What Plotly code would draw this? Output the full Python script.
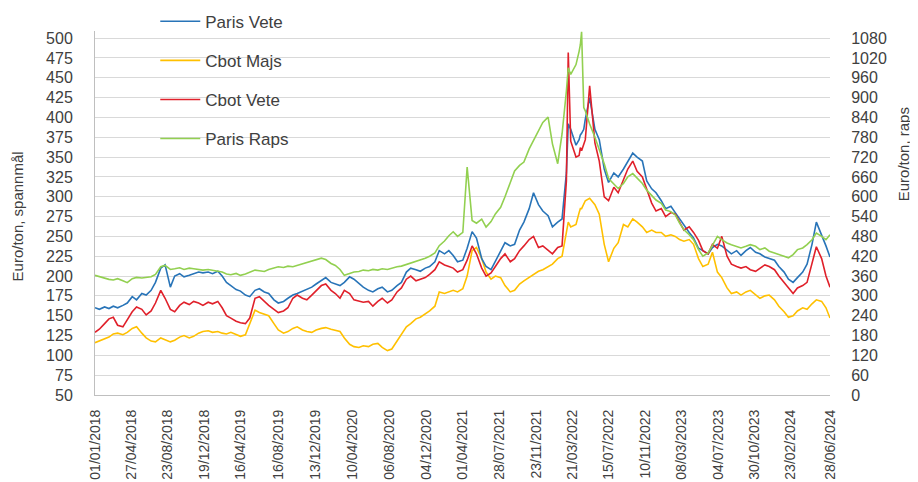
import datetime as dt
import plotly.graph_objects as go

# ---------------- data ----------------
# semi-monthly observations: 1st and 15th of each month, Jan 2018 .. Jun 2024, plus 28 Jun 2024
paris_vete = [
    160, 158, 161, 159, 162, 160, 163, 166, 174, 170, 178, 176, 182, 192, 210, 214, 186, 200, 203, 199, 201, 203, 205, 204,  # 2018
    205, 203, 206, 200, 192, 188, 183, 181, 176, 174, 182, 184, 180, 178, 170, 166, 168, 172, 176, 178, 181, 183, 186, 190,  # 2019
    194, 198, 192, 190, 188, 192, 199, 196, 190, 186, 182, 180, 184, 186, 180, 182, 188, 192, 205, 210, 208, 206, 210, 212,  # 2020
    218, 232, 228, 232, 226, 218, 220, 235, 256, 248, 222, 212, 208, 218, 232, 242, 238, 240, 258, 268, 285, 305, 290, 282,  # 2021
    276, 262, 268, 272, 330, 385, 365, 378, 398, 425, 385, 372, 335, 318, 330, 325, 335, 345, 355, 350, 345, 320, 310, 305,  # 2022
    295, 285, 288, 280, 272, 265, 255, 248, 235, 232, 228, 236, 240, 238, 232, 228, 232, 226, 232, 236, 230, 228, 224, 222,  # 2023
    220, 212, 205, 196, 192, 198, 205, 215, 240, 268, 252, 238, 224,                                                       # 2024
]
cbot_vete = [
    129, 133, 140, 146, 148, 138, 136, 145, 155, 161, 158, 151, 156, 166, 182, 172, 158, 155, 163, 167, 164, 168, 166, 163,
    167, 165, 168, 160, 150, 147, 143, 141, 140, 147, 172, 174, 168, 163, 158, 154, 156, 160, 172, 176, 172, 170, 176, 182,
    188, 190, 182, 178, 172, 182, 178, 170, 168, 167, 168, 162, 168, 172, 166, 170, 180, 185, 196, 200, 194, 196, 198, 202,
    208, 218, 214, 212, 210, 205, 208, 220, 238, 228, 210, 200, 204, 212, 222, 228, 218, 222, 232, 238, 246, 250, 236, 238,
    232, 228, 236, 238, 320, 370, 350, 362, 372, 440, 368, 345, 300, 295, 312, 305, 322, 335, 345, 332, 325, 310, 292, 282,
    285, 275, 280, 278, 268, 258, 262, 255, 245, 232, 228, 240, 235, 250, 225, 215, 212, 210, 212, 208, 206, 210, 214, 212,
    208, 200, 192, 184, 178, 185, 188, 192, 215, 237, 222, 200, 186,
]
cbot_majs = [
    116, 118, 120, 123, 127, 128, 126, 129, 134, 136, 128, 122, 118, 117, 122, 120, 117, 119, 123, 125, 122, 124, 128, 130,
    131, 129, 130, 128, 127, 129, 126, 124, 126, 140, 157, 154, 152, 150, 140, 132, 128, 130, 134, 136, 132, 130, 129, 132,
    134, 135, 133, 132, 130, 122, 114, 111, 110, 112, 111, 114, 115, 110, 106, 108, 118, 125, 136, 140, 146, 148, 152, 156,
    162, 180, 178, 180, 182, 180, 184, 200, 232, 236, 222, 205, 196, 200, 198, 188, 180, 182, 190, 194, 198, 202, 206, 208,
    212, 215, 222, 225, 255, 262, 265, 285, 295, 298, 290, 278, 240, 218, 235, 242, 265, 262, 272, 268, 262, 255, 258, 255,
    255, 250, 252, 250, 246, 244, 246, 240, 222, 212, 215, 230, 205, 198, 185, 178, 180, 176, 180, 182, 176, 172, 175, 176,
    170, 162, 155, 148, 150, 156, 160, 158, 165, 170, 168, 160, 147,
]
paris_raps = [
    362, 358, 352, 350, 348, 352, 346, 340, 352, 356, 354, 355, 358, 365, 388, 392, 380, 382, 385, 380, 384, 382, 380, 378,
    380, 378, 376, 372, 366, 364, 368, 362, 366, 372, 378, 376, 374, 380, 384, 388, 386, 390, 388, 392, 396, 400, 404, 410,
    414, 410, 398, 392, 380, 362, 368, 372, 374, 378, 376, 380, 378, 382, 380, 384, 388, 390, 395, 400, 404, 408, 414, 420,
    430, 452, 466, 482, 494, 480, 492, 690, 528, 520, 532, 508, 525, 548, 568, 600, 640, 678, 695, 705, 745, 770, 800, 825,
    841, 760, 700, 790, 920, 970, 1000, 1060, 860, 820, 780, 745, 700, 655, 640, 625, 640, 660, 670, 655, 640, 620, 605, 590,
    580, 560, 555, 545, 520, 500, 485, 470, 440, 420, 430, 455, 480, 470, 460, 455, 450, 445, 450, 455, 450, 440, 445, 435,
    430, 425, 418, 415, 425, 440, 445, 455, 470, 490, 480, 470, 485,
]

# extra observations around the 2022 spikes
extra_dates = ["2022-03-07", "2022-04-11", "2022-04-19", "2022-04-26"]
paris_vete_extra = [392, 372, 380, 385]
cbot_vete_extra = [482, 352, 358, 365]
cbot_majs_extra = [268, 280, 285, 292]
paris_raps_extra = [990, 1040, 1099, 870]

tick_labels = ["01/01/2018", "27/04/2018", "23/08/2018", "19/12/2018", "16/04/2019", "16/08/2019",
               "13/12/2019", "10/04/2020", "06/08/2020", "04/12/2020", "01/04/2021", "28/07/2021",
               "23/11/2021", "21/03/2022", "15/07/2022", "10/11/2022", "08/03/2023", "04/07/2023",
               "30/10/2023", "23/02/2024", "28/06/2024"]

# ---------------- build date axis ----------------
base_dates = []
for y in range(2018, 2025):
    for m in range(1, 13):
        if y == 2024 and m > 6:
            break
        base_dates.append(dt.date(y, m, 1))
        base_dates.append(dt.date(y, m, 15))
base_dates.append(dt.date(2024, 6, 28))


def series(base, extra):
    pts = list(zip(base_dates, base)) + [
        (dt.date.fromisoformat(d), v) for d, v in zip(extra_dates, extra)]
    pts.sort(key=lambda p: p[0])
    return [p[0] for p in pts], [p[1] for p in pts]


tick_vals = [dt.datetime.strptime(t, "%d/%m/%Y").date() for t in tick_labels]

FONT = "Liberation Sans, Arial, sans-serif"
TXT = "#404040"

fig = go.Figure()
spec = [
    ("Paris Raps", paris_raps, paris_raps_extra, "#92D050", "y2", 4),
    ("Cbot Majs", cbot_majs, cbot_majs_extra, "#FFC000", "y", 2),
    ("Paris Vete", paris_vete, paris_vete_extra, "#2874B8", "y", 1),
    ("Cbot Vete", cbot_vete, cbot_vete_extra, "#E0202A", "y", 3),
]
for name, base, extra, col, yax, rank in spec:
    xs, ys = series(base, extra)
    fig.add_trace(go.Scatter(x=xs, y=ys, name=name, mode="lines", yaxis=yax,
                             line=dict(color=col, width=1.6), legendrank=rank,
                             legendgroup=name))

# the page body has an 8px margin, so the figure is 8px smaller than the window
fig.update_layout(
    width=910, height=474,
    margin=dict(l=87, r=88, t=23, b=87, autoexpand=False),
    paper_bgcolor="white", plot_bgcolor="white",
    font=dict(family=FONT, color=TXT),
    showlegend=True,
    legend=dict(x=0.082, y=1.075, xanchor="left", yanchor="top",
                bgcolor="rgba(0,0,0,0)", font=dict(size=17, color=TXT),
                tracegroupgap=14, itemwidth=40),
    xaxis=dict(type="date", range=[dt.date(2018, 1, 1), dt.date(2024, 6, 28)],
               tickmode="array", tickvals=tick_vals, ticktext=tick_labels,
               tickangle=-90, tickfont=dict(size=14, color=TXT), automargin=False,
               showgrid=False, showline=True, linecolor="#BFBFBF", linewidth=1,
               ticks="outside", ticklen=8, tickcolor="rgba(0,0,0,0)", zeroline=False),
    yaxis=dict(range=[50, 509], tickmode="array", tickvals=list(range(50, 501, 25)),
               tickfont=dict(size=16, color=TXT), showgrid=True, gridcolor="#D9D9D9",
               gridwidth=1, showline=True, linecolor="#BFBFBF", zeroline=False,
               automargin=False,
               ticks="outside", ticklen=18, tickcolor="rgba(0,0,0,0)"),
    yaxis2=dict(range=[0, 1101.6], overlaying="y", side="right", tickmode="array",
                tickvals=list(range(0, 1081, 60)), tickfont=dict(size=16, color=TXT),
                showgrid=False, showline=False, zeroline=False, automargin=False,
                ticks="outside", ticklen=17, tickcolor="rgba(0,0,0,0)"),
    annotations=[
        dict(text="Euro/ton, spannmål", xref="paper", yref="paper", x=-0.105, y=0.49,
             showarrow=False, textangle=-90, font=dict(size=15, color=TXT),
             xanchor="center", yanchor="middle"),
        dict(text="Euro/ton, raps", xref="paper", yref="paper", x=1.1, y=0.66,
             showarrow=False, textangle=-90, font=dict(size=15, color=TXT),
             xanchor="center", yanchor="middle"),
    ],
)

fig.write_html("out.html")
